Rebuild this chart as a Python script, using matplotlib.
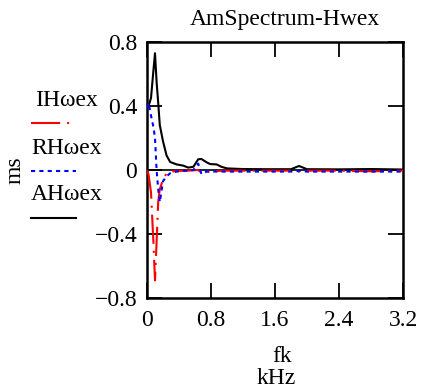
import matplotlib
matplotlib.use("Agg")
import matplotlib.pyplot as plt
from matplotlib.lines import Line2D

plt.rcParams['font.family'] = ['Liberation Serif', 'DejaVu Serif']
plt.rcParams['lines.scale_dashes'] = False

# frequency in kHz
f = [0.0, 0.02, 0.05, 0.08, 0.1, 0.12, 0.14, 0.16, 0.2, 0.245, 0.29, 0.37, 0.455,
     0.515, 0.58, 0.64, 0.68, 0.745, 0.79, 0.87, 0.93, 1.0, 1.2, 1.5, 1.8, 1.9,
     2.0, 2.4, 2.8, 3.2]
A_H = [0.39, 0.40, 0.45, 0.62, 0.73, 0.55, 0.42, 0.28, 0.18, 0.09, 0.05, 0.035,
       0.027, 0.015, 0.02, 0.067, 0.069, 0.048, 0.037, 0.035, 0.02, 0.01, 0.006,
       0.005, 0.005, 0.025, 0.005, 0.004, 0.006, 0.003]
R_H = [0.39, 0.42, 0.34, 0.27, 0.2, 0.0, -0.12, -0.2, -0.07, -0.04, -0.02, -0.01,
       -0.005, -0.005, 0.0, 0.04, -0.025, -0.01, -0.008, -0.01, -0.01, -0.01, -0.01,
       -0.01, -0.01, -0.005, -0.01, -0.01, -0.01, -0.01]
I_H = [0.0, -0.03, -0.14, -0.45, -0.69, -0.45, -0.2, -0.12, -0.06, -0.02, -0.01,
       -0.006, -0.005, -0.004, -0.002, 0.0, -0.015, -0.012, -0.008, -0.006, -0.005,
       -0.004, -0.004, -0.004, -0.004, -0.01, -0.004, -0.004, -0.008, -0.004]

xticks = [0, 0.8, 1.6, 2.4, 3.2]
xticklabels = ["0", "0.8", "1.6", "2.4", "3.2"]
yticks = [-0.8, -0.4, 0, 0.4, 0.8]
yticklabels = ["\u22120.8", "\u22120.4", "0", "0.4", "0.8"]
legend_labels = ["IH\u03c9ex", "RH\u03c9ex", "AH\u03c9ex"]

FS = 17
W, H = 422, 389
fig = plt.figure(figsize=(W / 100, H / 100), dpi=100)
ax = fig.add_axes([147 / W, 1 - 298 / H, (403 - 147) / W, (298 - 42) / H])

ax.axhline(0, color='black', lw=1.2, zorder=1)
ax.plot(f, A_H, color='black', lw=1.5, zorder=2)
lr, = ax.plot(f, I_H, color='red', lw=1.5, zorder=3)
lr.set_dashes([21, 5, 1.5, 5])
lb, = ax.plot(f, R_H, color='blue', lw=1.5, zorder=4)
lb.set_dashes([3, 3])

ax.set_xlim(0, 3.2)
ax.set_ylim(-0.8, 0.8)
ax.set_xticks(xticks)
ax.set_xticklabels(xticklabels)
ax.set_yticks(yticks)
ax.set_yticklabels(yticklabels)
ax.tick_params(direction='in', length=11, width=1.3, labelsize=FS,
               top=True, right=True, colors='black')
ax.tick_params(axis='x', pad=9)
ax.tick_params(axis='y', pad=7)
for s in ax.spines.values():
    s.set_linewidth(1.8)

fig.text(285 / W, 1 - 20 / H, "AmSpectrum-Hwex", ha='center', va='center', fontsize=FS)
fig.text(282 / W, 1 - 357 / H, "fk", ha='center', va='center', fontsize=FS)
fig.text(276 / W, 1 - 378 / H, "kHz", ha='center', va='center', fontsize=FS)
fig.text(15 / W, 1 - 170 / H, "ms", ha='center', va='center', fontsize=FS, rotation=90)

# legend (manual, Mathcad style)
leg_text_y = [100, 148, 195]
leg_line_y = [123, 171, 218]
styles = [dict(color='red', dashes=[21, 5, 1.5, 5]),
          dict(color='blue', dashes=[3, 3]),
          dict(color='black', dashes=None)]
for lab, ty, ly, st in zip(legend_labels, leg_text_y, leg_line_y, styles):
    fig.text(67 / W, 1 - ty / H, lab, ha='center', va='center', fontsize=FS)
    ln = Line2D([31 / W, 76 / W], [1 - ly / H, 1 - ly / H], transform=fig.transFigure,
                color=st['color'], lw=1.5)
    if st['dashes']:
        ln.set_dashes(st['dashes'])
    fig.add_artist(ln)

fig.savefig("out.png", dpi=100)
